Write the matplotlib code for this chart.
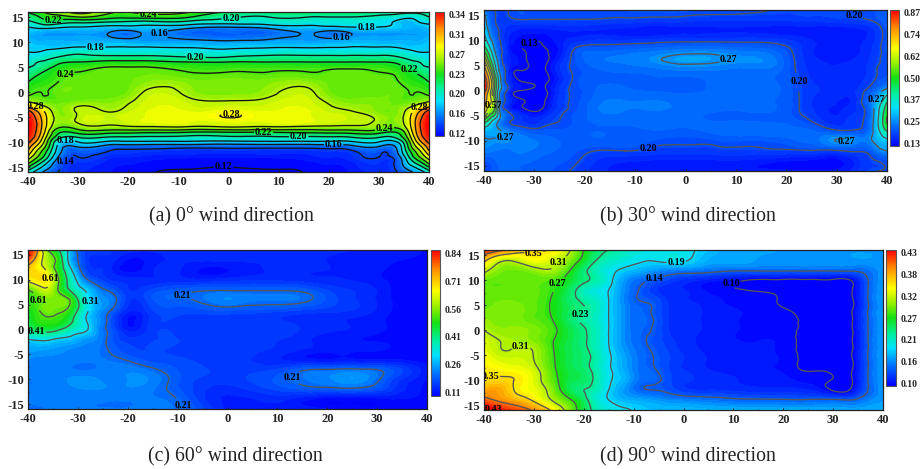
import numpy as np
import matplotlib
matplotlib.use("Agg")
import matplotlib.pyplot as plt
import matplotlib.tri as mtri
from matplotlib.colors import LinearSegmentedColormap, Normalize
from matplotlib.cm import ScalarMappable
from matplotlib.ticker import MultipleLocator

W, H = 921, 469
plt.rcParams['font.family'] = ['Liberation Serif', 'DejaVu Serif']
plt.rcParams['axes.unicode_minus'] = False

# ---- panel (a), values in thousandths
a_x = [-40,-38,-36,-34,-30,-24,-20,-16,-8,0,8,16,20,24,30,34,36,38,40]
a_y = [16,15,14,13,12,11,10,9,8,7,6,5,4,2,0,-2,-3,-4,-5,-6,-7,-8,-9,-10,-11,-12,-13,-14,-15,-16]
a_z = [
 [222,232,245,250,268,245,240,245,242,218,215,215,215,215,210,205,205,205,210],
 [208,218,230,232,240,228,225,228,222,202,200,200,200,200,195,190,185,190,200],
 [195,205,214,210,205,200,197,195,195,190,190,190,190,190,185,175,170,180,185],
 [180,185,188,184,180,175,175,175,168,161,168,175,177,180,180,175,170,170,175],
 [175,170,165,165,165,161,155,163,150,150,150,162,156,161,165,165,165,165,170],
 [170,165,165,165,165,161,156,163,155,150,155,162,157,161,165,165,165,165,170],
 [175,170,170,170,170,170,168,165,165,164,165,165,167,170,170,170,170,170,175],
 [175,175,175,175,180,180,180,180,178,175,178,178,179,180,180,178,175,175,175],
 [180,180,185,190,195,190,190,190,190,188,190,190,190,190,190,190,185,180,180],
 [185,190,195,200,205,205,205,205,200,200,205,205,205,205,205,200,195,190,185],
 [190,200,205,215,220,225,225,225,220,220,220,220,220,220,220,215,205,200,190],
 [200,205,215,225,235,240,240,240,235,235,235,235,235,235,235,225,215,205,200],
 [205,215,225,235,240,245,245,245,240,240,240,240,242,245,240,235,225,215,205],
 [220,230,235,240,245,245,246,252,250,250,250,252,246,245,245,240,235,230,220],
 [235,240,240,245,245,243,248,263,255,250,255,263,248,243,245,245,240,240,235],
 [262,252,246,244,250,250,258,268,265,262,265,268,258,250,250,244,246,252,262],
 [300,275,258,250,261,255,262,270,268,268,268,270,262,256,250,250,258,275,300],
 [330,300,270,252,262,260,266,272,272,276,272,272,266,262,250,252,270,300,330],
 [340,310,275,254,262,266,270,272,275,281,275,272,270,266,256,254,275,310,340],
 [342,315,275,254,262,264,268,272,272,272,272,272,268,265,256,254,275,315,342],
 [342,315,272,244,250,255,257,258,258,260,258,256,256,255,250,246,272,315,342],
 [340,312,262,225,228,228,227,225,222,222,222,225,227,228,228,225,262,312,340],
 [335,305,250,210,202,200,199,198,196,198,198,198,199,200,202,210,250,305,335],
 [325,290,235,185,180,176,176,176,176,174,176,176,176,176,180,185,235,290,325],
 [310,270,225,175,160,150,148,147,145,145,145,145,147,150,158,170,225,270,310],
 [295,252,212,170,145,139,136,134,132,132,132,132,134,135,143,165,212,252,295],
 [272,238,200,160,140,132,130,128,126,125,126,128,130,132,140,155,200,238,272],
 [250,215,180,150,135,128,126,124,122,122,122,124,126,128,135,150,185,215,250],
 [220,190,165,145,132,126,124,122,121,120,121,122,124,126,132,148,170,190,220],
 [190,170,150,140,130,125,123,121,118,118,118,121,123,125,130,142,155,170,190],
]
a_levels = [.12,.14,.16,.18,.20,.22,.24,.26,.28,.30,.32]
a_ticks = ['0.12','0.16','0.20','0.23','0.27','0.31','0.34']

# ---- panel (b)
b_x = [-40,-39,-38,-37,-36,-35,-33,-31,-28,-25,-22,-18,-12,-6,0,6,12,18,22,26,30,34,36,38,40]
b_y = [16,14,12,10,8,6,4,2,0,-2,-4,-6,-8,-10,-12,-14,-16]
b_z = [
 [235,215,200,190,190,200,212,208,205,205,206,208,212,215,215,212,206,198,197,195,192,195,200,212,225],
 [300,235,205,190,188,192,198,198,198,198,198,197,192,188,186,182,182,182,184,186,190,194,198,208,225],
 [330,260,220,198,180,170,160,158,158,162,165,163,158,152,158,160,160,155,155,152,150,158,165,185,215],
 [390,300,245,205,180,160,140,133,135,155,170,180,180,185,190,190,190,185,175,160,155,158,165,185,215],
 [480,380,280,215,190,155,133,125,128,150,205,225,230,240,250,250,240,225,190,160,155,160,170,190,215],
 [650,480,340,240,185,165,145,125,122,165,210,240,250,265,280,275,265,245,195,165,160,165,175,195,205],
 [780,620,420,270,210,160,130,124,126,175,205,225,232,238,245,245,238,235,198,170,165,170,180,200,205],
 [860,720,520,320,210,170,130,122,122,165,205,225,225,228,225,232,232,228,205,175,170,172,185,205,225],
 [850,700,500,300,225,175,132,122,122,180,205,228,232,228,225,230,232,232,205,180,175,180,205,240,290],
 [760,680,530,300,205,175,138,122,128,185,205,235,245,245,238,232,232,228,205,175,165,178,225,280,400],
 [720,580,500,290,215,180,150,130,145,190,210,240,245,245,238,230,230,228,205,175,160,180,210,310,470],
 [480,400,320,265,230,205,185,170,185,200,215,232,235,235,232,228,228,225,215,190,170,190,215,320,510],
 [300,295,285,275,265,250,230,215,215,215,220,228,225,228,225,235,240,240,235,225,205,205,225,310,430],
 [268,268,265,265,265,262,258,250,238,228,225,225,225,210,205,210,212,215,228,240,272,255,250,290,320],
 [255,250,245,242,240,240,250,245,235,225,215,200,200,190,190,190,192,195,195,195,195,205,210,245,270],
 [215,215,225,232,235,235,232,230,222,215,205,180,165,160,160,160,158,150,145,140,140,170,190,200,210],
 [205,205,220,230,235,235,230,225,215,208,195,172,158,155,155,150,150,150,148,148,150,175,195,200,205],
]
b_levels = [.13,.20,.27,.34,.42,.50,.57,.64,.72,.80]
b_ticks = ['0.13','0.25','0.37','0.50','0.62','0.74','0.87']

# ---- panel (c)
c_x = [-40,-38,-36,-34,-32,-30,-28,-26,-24,-20,-16,-10,-4,0,4,10,16,22,28,32,36,40]
c_y = [16,14,12,10,8,6,4,2,0,-2,-4,-6,-8,-10,-12,-14,-16]
c_z = [
 [840,700,500,420,300,190,170,170,165,150,145,150,150,150,148,148,148,145,140,135,130,125],
 [780,660,560,480,310,210,160,150,150,125,130,145,145,145,145,145,145,140,135,130,125,122],
 [680,650,590,480,360,235,170,160,150,118,135,145,120,125,135,145,145,140,130,125,115,115],
 [630,660,640,520,400,290,210,180,160,150,145,150,145,150,155,155,150,145,135,125,115,112],
 [510,560,590,510,420,345,290,235,205,160,170,195,205,205,205,205,195,165,150,130,115,112],
 [490,510,540,540,520,410,320,260,240,165,180,205,225,240,230,225,215,175,150,130,115,112],
 [470,505,540,525,500,410,320,260,225,150,165,185,190,195,190,185,175,165,150,130,118,112],
 [440,490,500,490,450,370,300,250,205,125,155,170,165,165,165,160,150,145,135,125,115,112],
 [410,430,440,420,380,340,310,245,205,135,160,170,170,170,170,170,155,145,135,125,118,115],
 [310,320,320,300,290,270,250,235,205,165,170,175,172,170,170,160,145,130,125,122,118,115],
 [260,260,255,250,240,235,230,225,210,180,175,172,170,170,165,155,140,135,130,125,120,118],
 [240,235,235,232,230,228,226,225,222,205,185,178,170,170,160,145,130,128,125,125,122,120],
 [235,232,230,228,225,222,222,225,230,235,220,190,175,170,168,175,205,212,212,195,165,130],
 [225,225,225,228,240,245,245,240,235,240,240,195,170,168,175,195,225,245,240,190,150,125],
 [225,225,228,230,232,238,240,240,238,238,230,195,158,150,160,180,195,200,195,170,140,120],
 [225,225,226,226,226,226,226,226,225,225,225,210,155,140,140,148,130,118,118,125,125,118],
 [222,222,224,224,224,224,224,224,224,224,225,220,170,138,135,140,135,125,118,118,120,118],
]
c_levels = [.21,.31,.41,.51,.61,.71]
c_ticks = ['0.11','0.26','0.41','0.56','0.71','0.84']

# ---- panel (d)
d_x = [-40,-37,-34,-30,-26,-22,-18,-15,-12,-9,-6,-3,0,5,10,15,20,25,30,33,35,37,40]
d_y = [16,14,12,10,8,6,4,2,0,-2,-4,-6,-8,-10,-12,-14,-16]
d_z = [
 [420,400,370,355,345,300,245,230,215,205,200,198,197,180,170,170,165,165,165,165,165,165,165],
 [360,320,315,335,320,285,235,215,205,195,192,198,195,172,170,165,165,165,165,165,165,165,165],
 [320,295,290,300,305,260,220,200,185,175,165,158,155,150,145,145,145,145,145,145,145,150,165],
 [290,285,285,285,280,250,225,200,165,148,138,128,120,112,105,98,98,98,98,98,115,140,165],
 [285,285,285,285,270,235,205,190,160,140,125,118,115,105,102,98,96,95,95,95,112,140,165],
 [285,290,290,285,265,235,215,190,158,140,135,120,115,110,106,104,98,95,95,95,110,140,165],
 [290,295,295,285,265,240,220,190,160,145,138,122,118,112,108,105,102,95,95,95,112,140,165],
 [300,295,295,285,268,235,215,190,160,145,140,122,118,112,108,106,106,97,95,95,112,140,165],
 [310,300,300,295,275,245,220,190,160,145,138,122,118,112,108,106,105,97,95,95,112,140,165],
 [322,310,305,295,270,245,220,190,160,145,135,125,118,112,108,107,105,97,95,95,112,140,165],
 [330,312,312,308,270,245,222,192,165,148,138,128,120,113,110,108,105,97,95,95,112,140,165],
 [340,325,322,310,272,245,225,195,170,150,140,130,122,114,110,108,106,97,95,95,112,140,165],
 [345,340,335,320,275,248,225,195,172,150,142,130,122,115,112,108,106,99,96,95,112,140,165],
 [350,355,350,325,280,248,228,195,175,150,145,132,124,118,115,112,110,105,99,96,112,140,165],
 [370,375,350,330,290,240,220,190,165,145,140,135,125,122,120,118,118,115,98,98,118,140,165],
 [400,385,370,345,305,265,215,190,175,170,165,158,155,150,145,143,142,142,143,140,145,155,165],
 [440,425,410,385,340,280,225,205,195,185,180,178,178,175,175,175,175,172,170,170,170,170,170],
]
d_levels = [.10,.14,.19,.23,.27,.31,.35,.39,.43]
d_ticks = ['0.10','0.16','0.21','0.27','0.32','0.38','0.43']

captions = ['(a) 0° wind direction', '(b) 30° wind direction',
            '(c) 60° wind direction', '(d) 90° wind direction']

cmap = LinearSegmentedColormap.from_list('rb', [
    (0.00, (0/255, 0/255, 255/255)), (0.14, (0/255, 105/255, 255/255)),
    (0.28, (0/255, 225/255, 255/255)), (0.38, (0/255, 240/255, 160/255)),
    (0.50, (20/255, 225/255, 20/255)), (0.61, (150/255, 240/255, 0/255)),
    (0.72, (255/255, 255/255, 0/255)), (0.87, (255/255, 140/255, 0/255)),
    (1.00, (250/255, 0/255, 0/255))])

fig = plt.figure(figsize=(W/100, H/100), dpi=100)

def rect(l, t, r, b):
    return [l/W, 1-b/H, (r-l)/W, (b-t)/H]

panels = [
 dict(x=a_x, y=a_y, z=a_z, lev=a_levels, ticks=a_ticks, vr=(.12,.34), box=(28,12,429,172), bar=(435,12,444,136),
      lc='#151515', cap=(231,217), names={},
      labels={.12:[(-1,-15)], .14:[(-32,-14.5)], .16:[(-14.5,11.8),(22.5,11.3),(21,-10.5)], .18:[(-26.5,9.5),(27.5,13.5),(-32.5,-10)],
              .20:[(0.5,15),(-6.5,7.4),(14,-8.7)], .22:[(-35,14.4),(7,-7.7),(35.5,3.5)], .24:[(-16,15.6),(-32.5,3.3),(31,-6.8)],
              .28:[(0.5,-4.7),(-38.5,-3),(38.5,-4)]}),
 dict(x=b_x, y=b_y, z=b_z, lev=b_levels, ticks=b_ticks, vr=(.13,.87), box=(484,10,887,171), bar=(890,10,899,146),
      lc='#555555', cap=(688,217), names={},
      labels={.13:[(-31,9.5)], .20:[(-7.5,-11),(33,15),(25,2.3)], .27:[(-35,-10.7),(15.5,5.8),(37.5,-1.5),(32,-10.5)], .57:[(-38,-3)]}),
 dict(x=c_x, y=c_y, z=c_z, lev=c_levels, ticks=c_ticks, vr=(.11,.84), box=(28,250,427,409), bar=(431,250,440,396),
      lc='#555555', cap=(235,457), names={.51:'0.61'},
      labels={.21:[(-11,6.9),(11,-9.5),(-8.5,-15)], .31:[(-27,5.7)], .41:[(-38,1.5)], .61:[(-36.5,10)], .51:[(-36.5,5.8)]}),
 dict(x=d_x, y=d_y, z=d_z, lev=d_levels, ticks=d_ticks, vr=(.10,.43), box=(484,250,883,410), bar=(886,250,896,386),
      lc='#555555', cap=(688,457), names={},
      labels={.10:[(9.5,9.3)], .14:[(-6,10.6)], .19:[(-1.5,14.9)], .23:[(-20,2.5)], .27:[(-25.5,9.5)],
              .31:[(-24,12.7),(-32.5,-5)], .35:[(-30,15.2),(-38.5,-10.7)], .43:[(-38,-15.4)]}),
]

for p, cap in zip(panels, captions):
    ax = fig.add_axes(rect(*p['box']))
    vmin, vmax = p['vr']
    Z = np.array(p['z'], dtype=float) / 1000
    X, Y = np.meshgrid(p['x'], p['y'])
    tri = mtri.Triangulation(X.ravel(), Y.ravel())
    # matplotlib's own smooth rendering of the read grid
    fine_tri, fine_z = mtri.UniformTriRefiner(tri).refine_field(Z.ravel(), subdiv=3)
    fill = np.linspace(vmin, vmax, 46)
    ax.tricontourf(fine_tri, fine_z, levels=fill, cmap=cmap, vmin=vmin, vmax=vmax, extend='both')
    for lev in p['lev']:
        if not (fine_z.min() < lev < fine_z.max()):
            continue
        cs = ax.tricontour(fine_tri, fine_z, levels=[lev], colors=p['lc'], linewidths=0.95)
        if lev in p['labels']:
            fmt = {lev: p['names'].get(lev, f'{lev:.2f}')}
            ax.clabel(cs, manual=p['labels'][lev], fmt=fmt, fontsize=7.2, inline=True, inline_spacing=1)
    for t in ax.texts:
        t.set_rotation(0)
        t.set_fontweight('bold')
        t.set_color('black')
    ax.set_xlim(-40, 40)
    ax.set_ylim(-16, 16)
    ax.xaxis.set_major_locator(MultipleLocator(10))
    ax.xaxis.set_minor_locator(MultipleLocator(5))
    ax.yaxis.set_major_locator(MultipleLocator(5))
    ax.yaxis.set_minor_locator(MultipleLocator(2.5))
    ax.tick_params(which='major', direction='in', length=1.5, width=0.7, pad=3, color='#222222')
    ax.tick_params(which='minor', direction='in', length=1, width=0.6, color='#222222')
    for lab in ax.get_xticklabels() + ax.get_yticklabels():
        lab.set_fontweight('bold'); lab.set_fontsize(9); lab.set_color('#222222')
    for s in ax.spines.values():
        s.set_linewidth(0.9); s.set_color('#222222')

    cax = fig.add_axes(rect(*p['bar']))
    sm = ScalarMappable(norm=Normalize(vmin, vmax), cmap=cmap)
    cb = fig.colorbar(sm, cax=cax)
    n = len(p['ticks'])
    span = vmax - vmin
    cb.set_ticks(np.linspace(vmin + .022*span, vmax - .022*span, n))
    cb.set_ticklabels(p['ticks'])
    cax.tick_params(length=0, pad=3)
    for lab in cax.get_yticklabels():
        lab.set_fontweight('bold'); lab.set_fontsize(7.0); lab.set_color('#222222')
    cb.outline.set_linewidth(0.8); cb.outline.set_edgecolor('#555555')

    fig.text(p['cap'][0]/W, 1-p['cap'][1]/H, cap, ha='center', va='center',
             fontsize=14.2, color='#222222', family=['Liberation Serif', 'DejaVu Serif'])

fig.savefig('out.png', dpi=100)
